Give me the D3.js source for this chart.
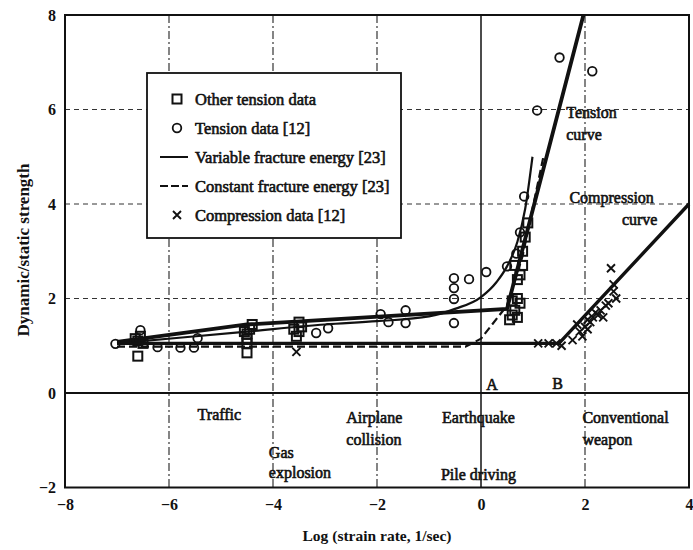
<!DOCTYPE html>
<html>
<head>
<meta charset="utf-8">
<script src="https://cdn.jsdelivr.net/npm/d3@7"></script>
<style>
  body { margin: 0; background: #fff; }
  svg { display: block; font-family: "Liberation Serif", "DejaVu Serif", serif; }
</style>
</head>
<body>
<div id="chart"></div>
<script>
// axis ticks
var xTicks = [-8, -6, -4, -2, 0, 2, 4];
var yTicks = [-2, 0, 2, 4, 6, 8];
var xGrid = [-6, -4, -2, 2];
var yGrid = [2, 4, 6];

// curves
var tensionCurveX = [-7.0, -4.5, 0.5, 1.97];
var tensionCurveY = [1.08, 1.45, 1.78, 8.0];
var variableX = [-7.0, -4.5, -3.0, -2.0, -1.0, -0.5, 0.0, 0.3, 0.5, 0.7, 0.85, 0.99];
var variableY = [1.05, 1.3, 1.45, 1.52, 1.62, 1.78, 2.03, 2.35, 2.68, 3.2, 3.9, 5.0];
var constantX = [-7.0, -0.3, 0.0, 0.5, 0.8, 1.2];
var constantY = [0.98, 0.98, 1.15, 1.85, 2.9, 5.0];
var compressionCurveX = [-7.0, 1.5, 4.0];
var compressionCurveY = [1.05, 1.05, 4.0];

// data points
var tensionX = [-7.03, -6.55, -6.22, -5.78, -5.52, -5.45, -3.17, -2.94, -1.93, -1.78, -1.45, -1.45,
  -0.52, -0.52, -0.52, -0.52, -0.23, 0.1, 0.5, 0.68, 0.75, 0.83, 1.08, 1.51, 2.14];
var tensionY = [1.04, 1.33, 0.97, 0.96, 0.96, 1.16, 1.27, 1.37, 1.67, 1.5, 1.75, 1.48,
  2.43, 2.22, 1.99, 1.48, 2.41, 2.56, 2.68, 2.95, 3.4, 4.16, 5.98, 7.1, 6.81];
var otherX = [-6.6, -6.6, -6.55, -6.5, -6.65, -4.5, -4.5, -4.5, -4.45, -4.4, -4.55, -4.5,
  -3.55, -3.5, -3.45, -3.5, -3.6, 0.55, 0.6, 0.65, 0.7, 0.75, 0.7, 0.6, 0.75, 0.8, 0.7, 0.8, 0.85, 0.9, 0.65];
var otherY = [0.78, 1.1, 1.2, 1.05, 1.15, 0.85, 1.15, 1.25, 1.35, 1.45, 1.3, 1.05,
  1.2, 1.3, 1.4, 1.5, 1.35, 1.55, 1.65, 1.75, 1.6, 1.9, 2.0, 1.95, 2.5, 2.7, 2.4, 3.0, 3.3, 3.6, 2.7];
var compressionX = [-3.55, 1.1, 1.3, 1.45, 1.55, 1.76, 1.9, 1.85, 2.0, 2.05, 2.1, 2.15, 2.2, 2.25,
  2.3, 2.35, 2.4, 2.45, 2.5, 2.55, 2.6, 2.55, 1.95, 2.05];
var compressionY = [0.87, 1.05, 1.05, 1.05, 1.0, 1.12, 1.3, 1.45, 1.4, 1.55, 1.5, 1.6, 1.7, 1.65,
  1.75, 1.6, 1.85, 1.9, 2.64, 2.15, 2.0, 2.3, 1.2, 1.35];

// annotations (data units)
var noteText = ["Traffic", "Gas", "explosion", "Airplane", "collision", "Earthquake", "Pile driving",
  "Conventional", "weapon", "A", "B", "Tension", "curve", "Compression", "curve"];
var noteX = [-5.45, -4.08, -4.08, -2.59, -2.59, -0.75, -0.77, 1.95, 1.95, 0.1, 1.37, 1.64, 1.64, 1.70, 2.71];
var noteY = [-0.58, -1.37, -1.79, -0.64, -1.11, -0.64, -1.85, -0.64, -1.11, 0.07, 0.09, 5.82, 5.36, 4.03, 3.56];

var legendLabels = ["Other tension data", "Tension data [12]", "Variable fracture energy [23]",
  "Constant fracture energy [23]", "Compression data [12]"];
var legendKinds = ["square", "circle", "solid", "dashed", "cross"];

var width = 693, height = 550;
var x = d3.scaleLinear().domain([-8, 4]).range([65, 689]);
var y = d3.scaleLinear().domain([-2, 8]).range([487.5, 15]);

var svg = d3.select("#chart").append("svg")
  .attr("width", width)
  .attr("height", height);

var ink = "#111";

// grid
svg.append("g").selectAll("line").data(xGrid).join("line")
  .attr("x1", d => x(d)).attr("x2", d => x(d))
  .attr("y1", y(8)).attr("y2", y(-2))
  .attr("stroke", "#222").attr("stroke-width", 1.1)
  .attr("stroke-dasharray", "8,3,2,3");
svg.append("g").selectAll("line").data(yGrid).join("line")
  .attr("x1", x(-8)).attr("x2", x(4))
  .attr("y1", d => y(d)).attr("y2", d => y(d))
  .attr("stroke", "#333").attr("stroke-width", 1)
  .attr("stroke-dasharray", "5,4");
svg.append("line")
  .attr("x1", x(0)).attr("x2", x(0)).attr("y1", y(8)).attr("y2", y(-2))
  .attr("stroke", ink).attr("stroke-width", 1.5);
svg.append("line")
  .attr("x1", x(-8)).attr("x2", x(4)).attr("y1", y(0)).attr("y2", y(0))
  .attr("stroke", ink).attr("stroke-width", 2);

// frame
svg.append("rect")
  .attr("x", x(-8)).attr("y", y(8))
  .attr("width", x(4) - x(-8)).attr("height", y(-2) - y(8))
  .attr("fill", "none").attr("stroke", ink).attr("stroke-width", 2);

// axes
var xAxis = svg.append("g")
  .attr("transform", `translate(0,${y(-2) + 8})`)
  .call(d3.axisBottom(x).tickValues(xTicks).tickSize(0).tickFormat(d3.format("d")));
var yAxis = svg.append("g")
  .attr("transform", `translate(${x(-8) - 6},0)`)
  .call(d3.axisLeft(y).tickValues(yTicks).tickSize(0).tickFormat(d3.format("d")));
[xAxis, yAxis].forEach(a => {
  a.select(".domain").remove();
  a.selectAll("text")
    .attr("font-family", "Liberation Serif")
    .attr("font-size", 16)
    .attr("font-weight", "bold")
    .attr("fill", ink);
});

svg.append("text")
  .attr("x", 377).attr("y", 541)
  .attr("text-anchor", "middle")
  .attr("font-size", 15.5).attr("font-weight", "bold").attr("fill", ink)
  .text("Log (strain rate, 1/sec)");
svg.append("text")
  .attr("transform", "translate(29,250) rotate(-90)")
  .attr("text-anchor", "middle")
  .attr("font-size", 17).attr("font-weight", "bold").attr("fill", ink)
  .text("Dynamic/static strength");

// curves
var line = d3.line().x(d => x(d[0])).y(d => y(d[1]));
var smooth = d3.line().x(d => x(d[0])).y(d => y(d[1])).curve(d3.curveMonotoneX);
function zip(a, b) { return a.map((v, i) => [v, b[i]]); }

svg.append("path").datum(zip(constantX, constantY))
  .attr("d", line).attr("fill", "none")
  .attr("stroke", ink).attr("stroke-width", 2.2).attr("stroke-dasharray", "8,4");
svg.append("path").datum(zip(variableX, variableY))
  .attr("d", smooth).attr("fill", "none")
  .attr("stroke", ink).attr("stroke-width", 2.2);
svg.append("path").datum(zip(compressionCurveX, compressionCurveY))
  .attr("d", line).attr("fill", "none")
  .attr("stroke", ink).attr("stroke-width", 3.4);
svg.append("path").datum(zip(tensionCurveX, tensionCurveY))
  .attr("d", line).attr("fill", "none")
  .attr("stroke", ink).attr("stroke-width", 3.8);

// markers
function marker(g, kind, cx, cy) {
  if (kind == "square") {
    g.append("rect").attr("x", cx - 4.5).attr("y", cy - 4.5).attr("width", 9).attr("height", 9)
      .attr("fill", "none").attr("stroke", ink).attr("stroke-width", 2);
  } else if (kind == "circle") {
    g.append("circle").attr("cx", cx).attr("cy", cy).attr("r", 4.3)
      .attr("fill", "none").attr("stroke", ink).attr("stroke-width", 1.8);
  } else if (kind == "cross") {
    g.append("path").attr("d", `M${cx - 4},${cy - 4}L${cx + 4},${cy + 4}M${cx - 4},${cy + 4}L${cx + 4},${cy - 4}`)
      .attr("stroke", ink).attr("stroke-width", 1.9);
  } else {
    g.append("line").attr("x1", cx - 17).attr("x2", cx + 11).attr("y1", cy).attr("y2", cy)
      .attr("stroke", ink).attr("stroke-width", 2)
      .attr("stroke-dasharray", kind == "dashed" ? "8,3" : null);
  }
}

var gMarks = svg.append("g");
otherX.forEach((v, i) => marker(gMarks, "square", x(v), y(otherY[i])));
tensionX.forEach((v, i) => marker(gMarks, "circle", x(v), y(tensionY[i])));
compressionX.forEach((v, i) => marker(gMarks, "cross", x(v), y(compressionY[i])));

// annotations
svg.append("g").selectAll("text").data(noteText).join("text")
  .attr("x", (d, i) => x(noteX[i]))
  .attr("y", (d, i) => y(noteY[i]))
  .attr("font-size", 16)
  .attr("fill", ink).attr("stroke", ink).attr("stroke-width", 0.6)
  .text(d => d);

// legend
var legend = svg.append("g");
legend.append("rect")
  .attr("x", 147).attr("y", 73).attr("width", 254).attr("height", 165)
  .attr("fill", "#fff").attr("stroke", ink).attr("stroke-width", 1.8);
legendLabels.forEach((t, i) => {
  var ly = 99 + i * 29;
  marker(legend, legendKinds[i], 177, ly);
  legend.append("text")
    .attr("x", 195).attr("y", ly + 6)
    .attr("font-size", 16.5)
    .attr("fill", ink).attr("stroke", ink).attr("stroke-width", 0.6)
    .text(t);
});
</script>
</body>
</html>
